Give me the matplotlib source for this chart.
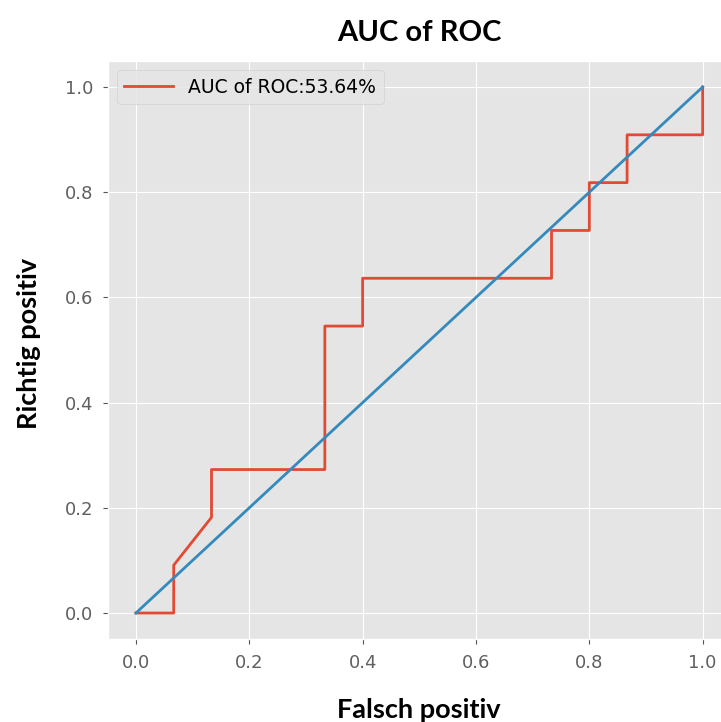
import matplotlib
matplotlib.use("Agg")
import matplotlib.pyplot as plt

# ROC curve points (false positive rate, true positive rate)
fpr = [0.0, 1/15, 1/15, 2/15, 2/15, 5/15, 5/15, 6/15, 6/15, 11/15, 11/15,
       12/15, 12/15, 13/15, 13/15, 1.0, 1.0]
tpr = [0.0, 0.0, 1/11, 2/11, 3/11, 3/11, 6/11, 6/11, 7/11, 7/11, 8/11,
       8/11, 9/11, 9/11, 10/11, 10/11, 1.0]
auc_label = "AUC of ROC:53.64%"
diag = [0.0, 1.0]

plt.style.use("ggplot")

fig = plt.figure(figsize=(7.21, 7.22), dpi=100)
ax = fig.add_axes([107.6 / 721, (722 - 639.3) / 722, 623.4 / 721, 578.6 / 722])

ax.plot(fpr, tpr, color="#E24A33", lw=2, label=auc_label)
ax.plot(diag, diag, color="#348ABD", lw=2)

ax.set_xticks([0.0, 0.2, 0.4, 0.6, 0.8, 1.0])
ax.set_yticks([0.0, 0.2, 0.4, 0.6, 0.8, 1.0])
ax.tick_params(labelsize=13, labelcolor="#606060", pad=7)

ax.set_title("AUC of ROC", fontsize=21, fontweight="bold", family="Lato", pad=14)
ax.set_xlabel("Falsch positiv", fontsize=19.5, fontweight="bold", family="Lato",
              color="black", labelpad=19)
ax.set_ylabel("Richtig positiv", fontsize=19.5, fontweight="bold", family="Lato",
              color="black", labelpad=17)
ax.yaxis.label.set_y(0.512)

ax.legend(loc="upper left", fontsize=13.5, handlelength=2.6)

fig.savefig("out.png", dpi=100)
